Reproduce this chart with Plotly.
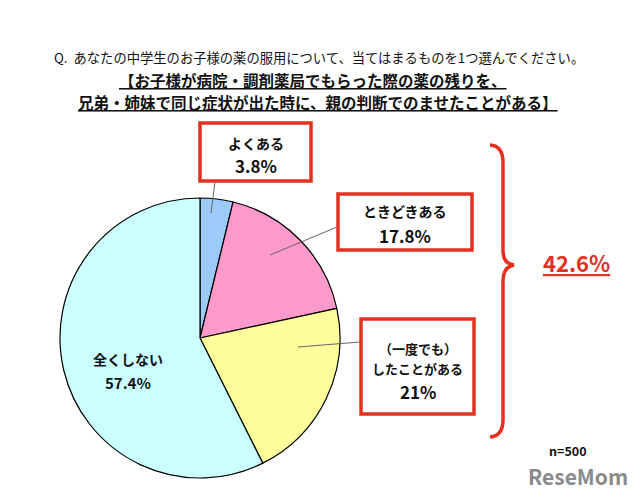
import plotly.graph_objects as go

# ---- data ----
categories = ["よくある", "ときどきある", "（一度でも）したことがある", "全くしない"]
values = [3.8, 17.8, 21.0, 57.4]
slice_colors = ["#9CCBFA", "#FD99CB", "#FDFD9C", "#CCFFFF"]
total_text = "42.6%"
n_text = "n=500"
title1 = "Q.  あなたの中学生のお子様の薬の服用について、当てはまるものを1つ選んでください。"
title2 = "【お子様が病院・調剤薬局でもらった際の薬の残りを、"
title3 = "兄弟・姉妹で同じ症状が出た時に、親の判断でのませたことがある】"

JP = "Noto Sans CJK JP, Noto Sans, sans-serif"
RED = "#E5301F"

fig = go.Figure()
fig.add_trace(go.Pie(
    labels=categories, values=values, sort=False, direction="clockwise", rotation=0,
    marker=dict(colors=slice_colors, line=dict(color="#000000", width=1.2)),
    textinfo="none", hoverinfo="label+percent", showlegend=False,
    domain=dict(x=[60/640, 340/640], y=[(500-478)/500, (500-198)/500]),
))

shapes = []
# label boxes (pixel coordinates on hidden axes)
boxes = [(200, 123, 311, 181), (338, 194, 472, 250), (361, 319, 474, 414)]
for x0, y0, x1, y1 in boxes:
    shapes.append(dict(type="rect", xref="x", yref="y", x0=x0, y0=y0, x1=x1, y1=y1,
                       line=dict(color=RED, width=3.5), fillcolor="white", layer="above"))
# leader lines
leaders = [((215, 182), (211, 213)), ((337, 227), (270, 255)), ((360, 342), (298, 347))]
for (ax, ay), (bx, by) in leaders:
    shapes.append(dict(type="line", xref="x", yref="y", x0=ax, y0=ay, x1=bx, y1=by,
                       line=dict(color="#666666", width=1), layer="above"))
# brace
brace = ("M 490 145 Q 503 146 503 162 L 503 250 Q 503 264 514 265 "
         "Q 503 267 503 281 L 503 420 Q 503 436 490 437")
shapes.append(dict(type="path", xref="x", yref="y", path=brace,
                   line=dict(color=RED, width=3.5), layer="above"))

ann = []
def t(x, y, s, size, color="#111111", bold=False, xanchor="center"):
    ann.append(dict(x=x, y=y, xref="x", yref="y", text=("<b>%s</b>" % s) if bold else s,
                    showarrow=False, xanchor=xanchor, yanchor="middle",
                    font=dict(family=JP, size=size, color=color)))

t(319, 57, title1, 13.3)
t(313, 80, "<u>" + title2 + "</u>", 15.5, bold=True)
t(318, 102, "<u>" + title3 + "</u>", 15.5, bold=True)

t(255.5, 143, "よくある", 14, bold=True)
t(255.5, 165, "3.8%", 17, bold=True)
t(405, 211, "ときどきある", 14, bold=True)
t(405, 235, "17.8%", 17, bold=True)
t(417.5, 348, "（一度でも）", 13, bold=True)
t(417.5, 368, "したことがある", 13, bold=True)
t(417.5, 391, "21%", 17, bold=True)
t(128, 359, "全くしない", 14, bold=True)
t(128, 382, "57.4%", 15, bold=True)

t(576, 262, "<u>" + total_text + "</u>", 22, color=RED, bold=True)
t(568, 450, n_text, 12.5, bold=True)
t(578, 476, "ReseMom", 21, color="#8A8A8A", bold=True)

fig.update_layout(
    width=640, height=500, margin=dict(l=0, r=0, t=0, b=0),
    paper_bgcolor="white", plot_bgcolor="rgba(0,0,0,0)",
    xaxis=dict(range=[0, 640], visible=False, domain=[0, 1], fixedrange=True),
    yaxis=dict(range=[500, 0], visible=False, domain=[0, 1], fixedrange=True),
    shapes=shapes, annotations=ann,
)
fig.write_html("out.html")
